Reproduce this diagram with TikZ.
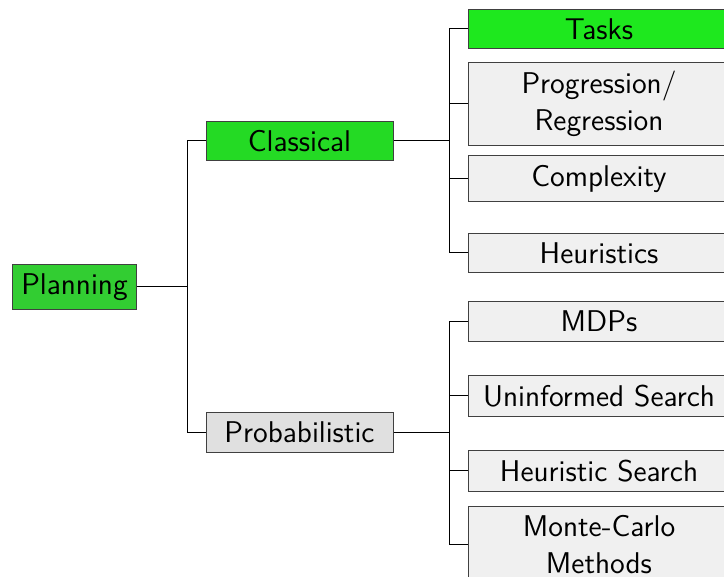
\documentclass[tikz,border=0pt]{standalone}
\usepackage{tikz}
\definecolor{rootgreen}{RGB}{50,205,50}
\definecolor{topicgreen}{RGB}{36,218,36}
\definecolor{leafgreen}{RGB}{30,232,30}
\definecolor{topicgray}{RGB}{224,224,224}
\definecolor{leafgray}{RGB}{240,240,240}
\tikzstyle{box} = [draw=black!75, rectangle, inner sep=4.5pt, font=\sffamily\fontsize{15}{18.5}\selectfont, line width=0.5pt]
\tikzstyle{root} = [box, fill=rootgreen]
\tikzstyle{topic} = [box, minimum width=93.5pt, fill=topicgray]
\tikzstyle{leaf} = [box, text width=122pt, align=center, fill=leafgray]
\tikzstyle{fork} = [line width=0.5pt]

\begin{document}
\begin{tikzpicture}[x=0.5pt, y=-0.5pt]
    \useasboundingbox (0,0) rectangle (724,577);
    \node[root] (plan) at (74.5,287) {Planning};
    \node[topic, fill=topicgreen] (class) at (299.5,141) {Classical};
    \node[topic] (prob) at (299.5,432.5) {Probabilistic};
    % classical planning topics
    \node[leaf, fill=leafgreen] (tasks) at (599,29) {Tasks};
    \node[leaf] (prog) at (599,104) {Progression/\\Regression};
    \node[leaf] (compl) at (599,178.5) {Complexity};
    \node[leaf] (heur) at (599,253) {Heuristics};
    % probabilistic planning topics
    \node[leaf] (mdp) at (599,321.5) {MDPs};
    \node[leaf] (unin) at (599,396) {Uninformed Search};
    \node[leaf] (hsearch) at (599,471) {Heuristic Search};
    \node[leaf] (mc) at (599,545) {Monte-Carlo\\Methods};
    \coordinate (f1) at (187,287);
    \coordinate (f2) at (449,141);
    \coordinate (f3) at (449,432.5);
    \draw[fork] (plan) -- (f1) |- (class);
    \draw[fork] (f1) |- (prob);
    \draw[fork] (class) -- (f2);
    \draw[fork] (prob) -- (f3);
    \foreach \n in {tasks,prog,compl,heur}
        \draw[fork] (f2) |- (\n);
    \foreach \n in {mdp,unin,hsearch,mc}
        \draw[fork] (f3) |- (\n);
\end{tikzpicture}
\end{document}
